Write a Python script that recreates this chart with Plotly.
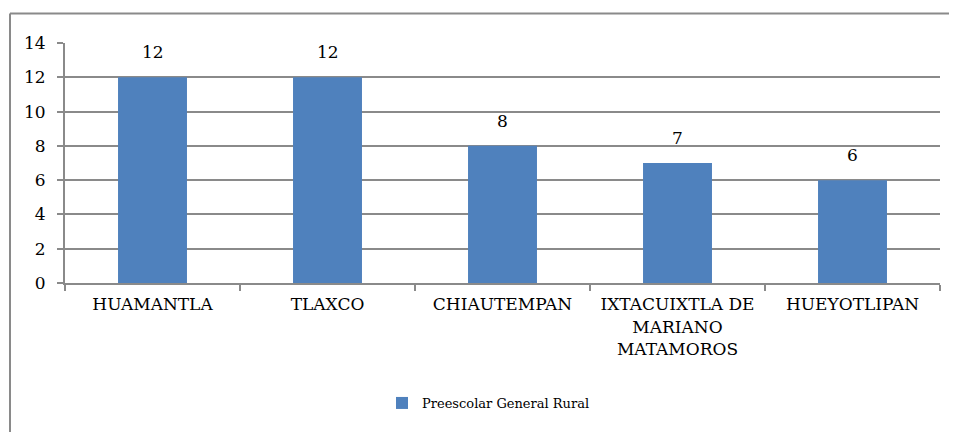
import plotly.graph_objects as go

categories = ["HUAMANTLA", "TLAXCO", "CHIAUTEMPAN", "IXTACUIXTLA DE<br>MARIANO<br>MATAMOROS", "HUEYOTLIPAN"]
values = [12, 12, 8, 7, 6]
series_name = "Preescolar General Rural"
y_ticks = [0, 2, 4, 6, 8, 10, 12, 14]

FONT = "DejaVu Serif"
GRID = "#8a8a8a"
OFF = 8  # default page body margin

L, T = 65 - OFF, 42.5 - OFF
PR, PB = 940 - OFF, 283.5 - OFF
W, H = 957 - OFF, 432 - OFF
R, B = W - PR, H - PB
pw = PR - L
ph = PB - T

bx0 = (10 - OFF - L) / pw
by1 = 1 + (T - (13 - OFF)) / ph

fig = go.Figure()
fig.add_trace(go.Bar(
    x=categories, y=values, name=series_name,
    marker=dict(color="#4F81BD", line=dict(width=0)),
))

labels = [dict(x=c, y=v, text=str(v), showarrow=False, yanchor="bottom", yshift=13,
               font=dict(family=FONT, size=17, color="black"))
          for c, v in zip(categories, values)]

fig.update_layout(
    width=W, height=H,
    margin=dict(l=L, r=R, t=T, b=B),
    paper_bgcolor="white", plot_bgcolor="white",
    bargap=0.606,
    font=dict(family=FONT, size=17, color="black"),
    showlegend=True,
    legend=dict(orientation="h", x=0.484, xanchor="center",
                y=-(404 - 283.5) / ph, yanchor="middle",
                font=dict(family=FONT, size=13, color="black"),
                itemwidth=30),
    xaxis=dict(showline=True, linecolor=GRID, linewidth=2,
               ticks="outside", tickson="boundaries", ticklen=6, tickcolor=GRID, tickwidth=1.5,
               tickfont=dict(family=FONT, size=17, color="black"), ticklabelstandoff=5,
               showgrid=False),
    yaxis=dict(range=[0, 14], tickvals=y_ticks, showline=True, linecolor=GRID, linewidth=2,
               ticks="outside", ticklen=6, tickcolor=GRID, tickwidth=1.5,
               showgrid=True, gridcolor=GRID, gridwidth=2, ticklabelstandoff=8,
               tickfont=dict(family=FONT, size=17, color="black"), zeroline=False),
    annotations=labels,
    shapes=[
        dict(type="line", xref="paper", yref="paper", x0=bx0, x1=1.2, y0=by1, y1=by1,
             line=dict(color=GRID, width=2), layer="below"),
        dict(type="line", xref="paper", yref="paper", x0=bx0, x1=bx0, y0=by1, y1=-1.0,
             line=dict(color=GRID, width=2), layer="below"),
    ],
)

fig.write_html("out.html")
